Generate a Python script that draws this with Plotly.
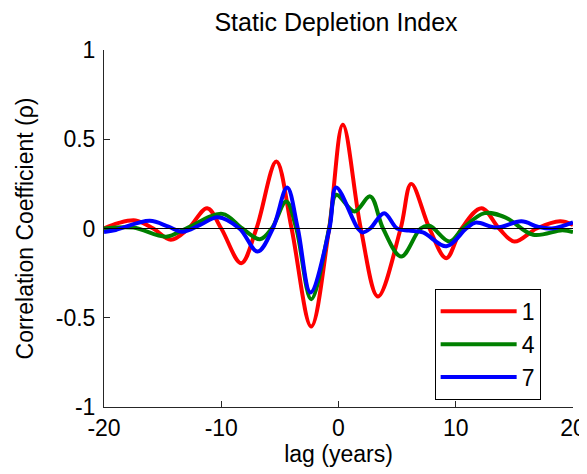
import plotly.graph_objects as go

# Series: lag (years) and correlation coefficient, read at extrema / zero crossings
lag_1 = [-20, -18.8, -17.3, -15.8, -14.3, -12.8, -11.2, -10.0, -8.3, -7.0, -5.3, -4.0,
         -2.33, -0.8, 0.37, 1.9, 3.36, 5.3, 6.2, 7.76, 9.19, 10.5, 12.2, 13.7, 15.0,
         16.9, 18.9, 20]
rho_1 = [0.0, 0.03, 0.045, 0.0, -0.063, 0.0, 0.114, 0.0, -0.194, 0.0, 0.375, 0.0,
         -0.549, 0.0, 0.581, 0.0, -0.381, 0.0, 0.25, 0.0, -0.166, 0.0, 0.114, 0.0, -0.073,
         0.0, 0.04, 0.02]

lag_4 = [-20, -17.5, -14.7, -13.0, -9.9, -8.2, -6.7, -5.7, -4.46, -3.6, -2.33, -0.8,
         -0.2, 1.37, 2.7, 3.8, 5.35, 7.0, 7.76, 9.47, 10.6, 12.46, 14.3, 16.6, 19.1, 20]
rho_4 = [0.0, 0.005, -0.046, 0.0, 0.082, 0.0, -0.06, 0.0, 0.151, 0.0, -0.396, 0.0,
         0.189, 0.095, 0.18, 0.0, -0.157, 0.0, 0.015, -0.073, 0.0, 0.086, 0.06, -0.035,
         -0.01, -0.02]

lag_7 = [-20, -19.0, -16.1, -14.5, -13.3, -11.8, -10.3, -8.45, -6.9, -5.6, -4.38, -3.47,
         -2.39, -0.77, -0.2, 1.65, 2.07, 2.7, 3.9, 5.0, 6.0, 7.2, 9.2, 10.9, 11.7, 13.5,
         15.6, 17.0, 18.2, 20]
rho_7 = [-0.02, -0.008, 0.043, 0.01, -0.018, 0.02, 0.063, 0.0, -0.129, 0.0, 0.23, 0.0,
         -0.358, 0.0, 0.23, 0.0, -0.022, 0.0, 0.086, 0.0, -0.011, -0.022, -0.1, 0.0, 0.033,
         0.005, 0.04, 0.01, 0.0, 0.035]

series_names = ["1", "4", "7"]
series_colors = ["#FF0000", "#008000", "#0000FF"]

x_ticks = [-20, -10, 0, 10, 20]
x_tick_text = ["-20", "-10", "0", "10", "20"]
y_ticks = [-1, -0.5, 0, 0.5, 1]
y_tick_text = ["-1", "-0.5", "0", "0.5", "1"]

FONT = "Liberation Sans, Arial, sans-serif"

fig = go.Figure()
for xs, ys, name, col in zip([lag_1, lag_4, lag_7], [rho_1, rho_4, rho_7],
                             series_names, series_colors):
    fig.add_trace(go.Scatter(x=xs, y=ys, mode="lines", name=name,
                             line=dict(color=col, width=4, shape="spline", smoothing=1.0)))

fig.add_shape(type="line", xref="paper", yref="y", x0=0, x1=1, y0=0, y1=0,
              line=dict(color="black", width=1), layer="above")

# The page body adds an 8px margin; the figure is sized to fit the 587x474 window.
fig.update_layout(
    width=579, height=466,
    margin=dict(l=96, r=14, t=42, b=67, autoexpand=False),
    paper_bgcolor="white", plot_bgcolor="white",
    font=dict(family=FONT, size=23, color="black"),
    title=dict(text="Static Depletion Index", x=0.4947, xref="paper", xanchor="center",
               y=0.97, yref="container", yanchor="middle",
               font=dict(family=FONT, size=25, color="black")),
    showlegend=True,
    legend=dict(x=0.931, y=0.02, xanchor="right", yanchor="bottom",
                bordercolor="black", borderwidth=1, bgcolor="white",
                font=dict(family=FONT, size=23, color="black"),
                itemwidth=76, tracegroupgap=0),
    xaxis=dict(range=[-20, 20], tickvals=x_ticks, ticktext=x_tick_text, ticks="inside",
               ticklen=6, tickcolor="#262626", showline=True, linecolor="#262626",
               linewidth=1, showgrid=False, zeroline=False, mirror=False, automargin=False,
               title=dict(text="lag (years)", standoff=0,
                          font=dict(family=FONT, size=23, color="black")),
               tickfont=dict(family=FONT, size=23, color="black")),
    yaxis=dict(range=[-1, 1], tickvals=y_ticks, ticktext=y_tick_text, ticks="inside",
               ticklen=6, tickcolor="#262626", showline=True, linecolor="#262626",
               linewidth=1, showgrid=False, zeroline=False, mirror=False, automargin=False,
               ticklabelstandoff=3,
               title=dict(text="Correlation Coefficient (ρ)",
                          font=dict(family=FONT, size=23, color="black")),
               tickfont=dict(family=FONT, size=23, color="black")),
)

fig.write_html("out.html")
